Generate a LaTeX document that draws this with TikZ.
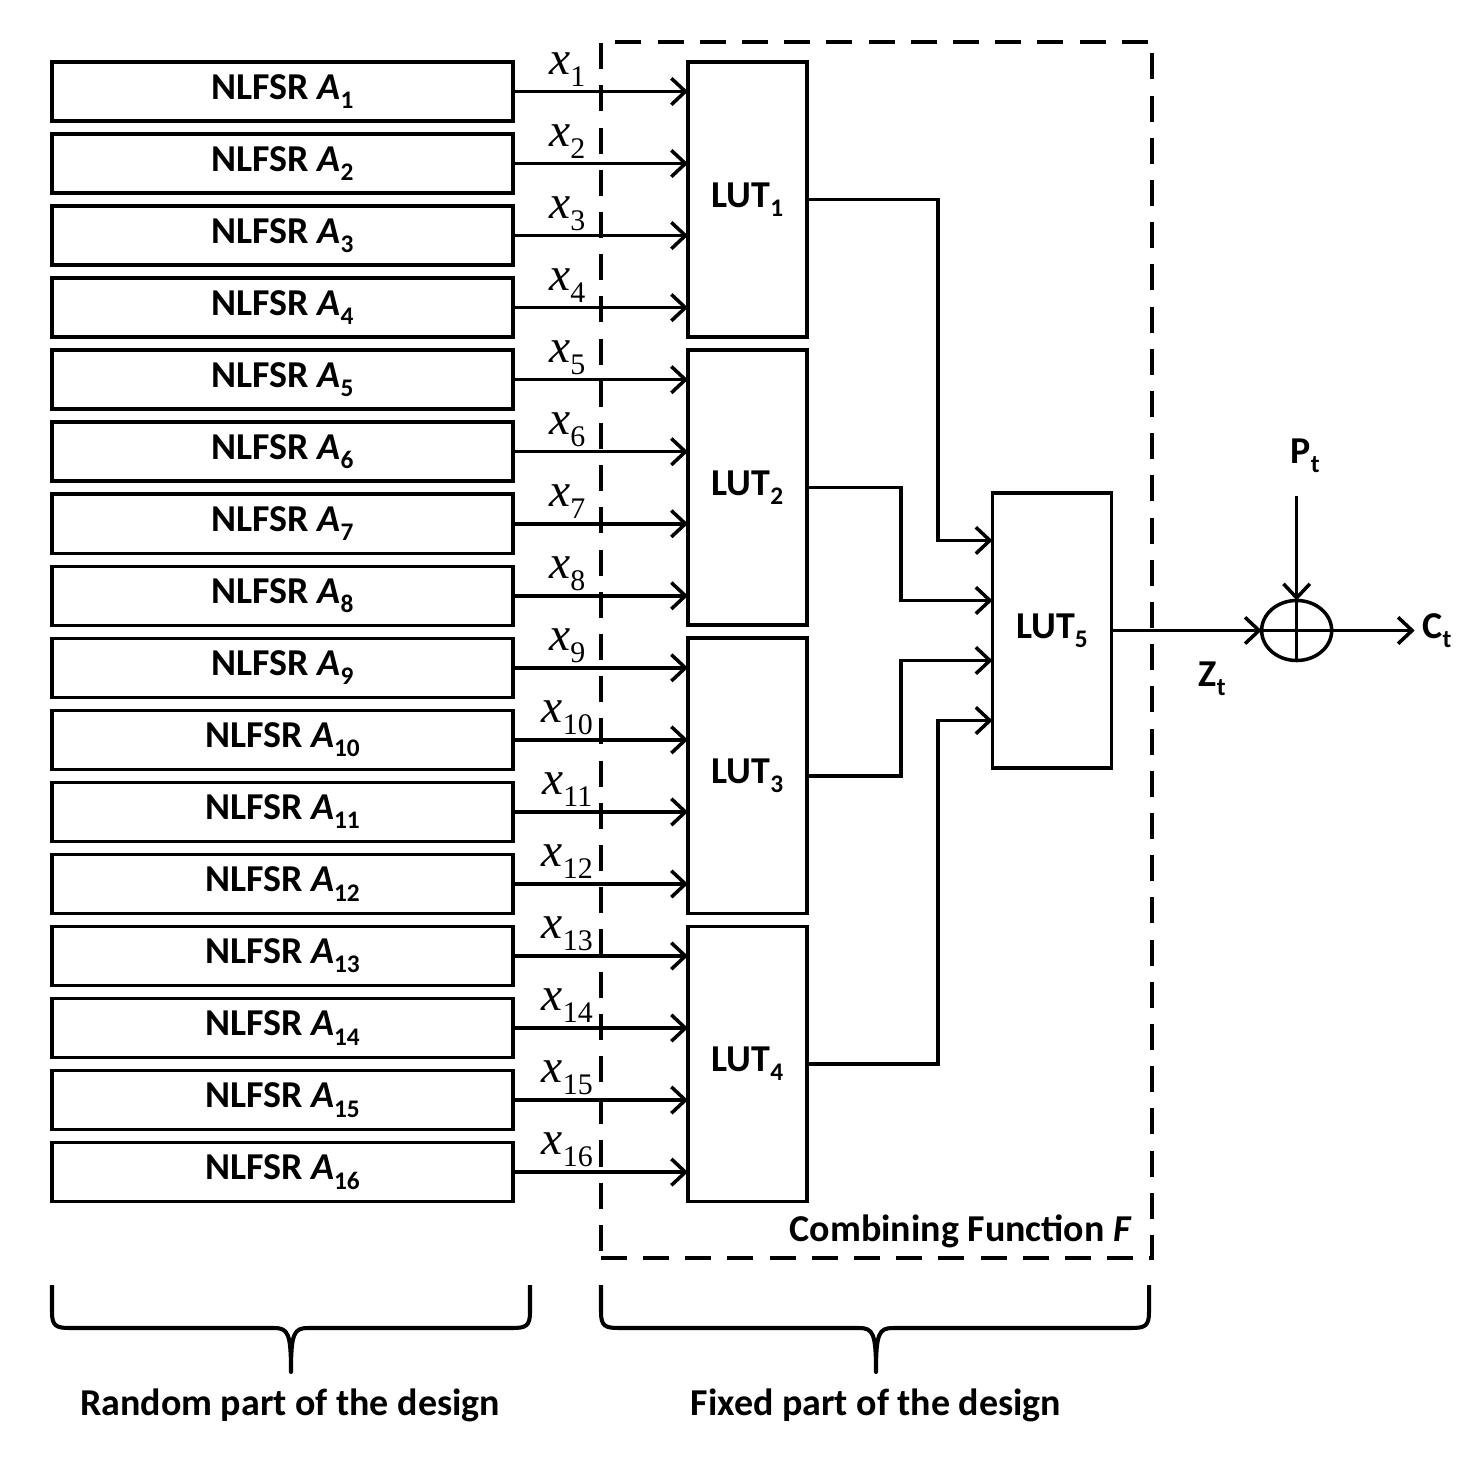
\documentclass[tikz,border=0pt]{standalone}
\usepackage{fontspec}
\setmainfont{Carlito}
\newfontfamily\timesfont{Liberation Serif}
\usetikzlibrary{shapes.geometric, arrows.meta, positioning}
\newcommand{\lowsub}[1]{\raisebox{-0.5ex}{\fontsize{7.2}{8}\selectfont #1}}
\newcommand{\xlab}[1]{{\timesfont\fontsize{13.5}{16}\selectfont\textit{x}\raisebox{-0.55ex}{\fontsize{8.5}{10}\selectfont #1}}}

\begin{document}
\begin{tikzpicture}[
    x=0.01cm, y=-0.01cm,
    node distance=0.13cm,
    nlfsr/.style={rectangle, draw, line width=1pt, minimum width=4.61cm,
                  minimum height=0.59cm, inner sep=0pt, outer sep=0pt,
                  font=\bfseries\fontsize{10.8}{12}\selectfont},
    lut/.style={rectangle, draw, line width=1pt, minimum width=1.19cm,
                minimum height=2.75cm, inner sep=0pt, outer sep=0pt,
                font=\bfseries\fontsize{10.8}{12}\selectfont},
    xorgate/.style={ellipse, draw, line width=1pt, minimum width=0.7cm,
                    minimum height=0.6cm, inner sep=0pt, outer sep=0pt},
    dashbox/.style={rectangle, draw, line width=1.15pt, inner sep=0pt,
                    dash pattern=on 7.4pt off 4.6pt},
    lbl/.style={font=\bfseries\fontsize{10.8}{12}\selectfont},
    xlbl/.style={above, inner sep=1pt, pos=0.31},
    arr/.style={-{Straight Barb[length=4pt, width=7.5pt]}, line width=1pt},
    brace/.style={line width=1.15pt, line join=round}
]
\useasboundingbox (0,0) rectangle (1477,1477);

\node[dashbox, minimum width=5.51cm, minimum height=12.16cm] (F) at (876.5,650) {};
\node[lbl, anchor=south east] (cf) at ([xshift=-0.1cm]F.south east) {Combining Function \textit{F}};

\node[nlfsr] (A1) at (282.5,91.5) {NLFSR \textit{A}\lowsub{1}};
\node[nlfsr, below=of A1] (A2) {NLFSR \textit{A}\lowsub{2}};
\node[nlfsr, below=of A2] (A3) {NLFSR \textit{A}\lowsub{3}};
\node[nlfsr, below=of A3] (A4) {NLFSR \textit{A}\lowsub{4}};
\node[nlfsr, below=of A4] (A5) {NLFSR \textit{A}\lowsub{5}};
\node[nlfsr, below=of A5] (A6) {NLFSR \textit{A}\lowsub{6}};
\node[nlfsr, below=of A6] (A7) {NLFSR \textit{A}\lowsub{7}};
\node[nlfsr, below=of A7] (A8) {NLFSR \textit{A}\lowsub{8}};
\node[nlfsr, below=of A8] (A9) {NLFSR \textit{A}\lowsub{9}};
\node[nlfsr, below=of A9] (A10) {NLFSR \textit{A}\lowsub{10}};
\node[nlfsr, below=of A10] (A11) {NLFSR \textit{A}\lowsub{11}};
\node[nlfsr, below=of A11] (A12) {NLFSR \textit{A}\lowsub{12}};
\node[nlfsr, below=of A12] (A13) {NLFSR \textit{A}\lowsub{13}};
\node[nlfsr, below=of A13] (A14) {NLFSR \textit{A}\lowsub{14}};
\node[nlfsr, below=of A14] (A15) {NLFSR \textit{A}\lowsub{15}};
\node[nlfsr, below=of A15] (A16) {NLFSR \textit{A}\lowsub{16}};

\node[lut] (L1) at (747.5,199.5) {LUT\lowsub{1}};
\node[lut, below=of L1] (L2) {LUT\lowsub{2}};
\node[lut, below=of L2] (L3) {LUT\lowsub{3}};
\node[lut, below=of L3] (L4) {LUT\lowsub{4}};
\node[lut] (L5) at (1052,630.5) {LUT\lowsub{5}};

\node[xorgate, right=1.5cm of L5] (xor) {};
\node[lbl] (pt) at (1305,456) {P\lowsub{t}};
\node[lbl, right=0.83cm of xor, inner sep=2pt] (ct) {C\lowsub{t}};

\draw[arr] (A1.east) -- (A1.east -| L1.west) node[xlbl] (x1) {\xlab{1}};
\draw[arr] (A2.east) -- (A2.east -| L1.west) node[xlbl] (x2) {\xlab{2}};
\draw[arr] (A3.east) -- (A3.east -| L1.west) node[xlbl] (x3) {\xlab{3}};
\draw[arr] (A4.east) -- (A4.east -| L1.west) node[xlbl] (x4) {\xlab{4}};
\draw[arr] (A5.east) -- (A5.east -| L2.west) node[xlbl] (x5) {\xlab{5}};
\draw[arr] (A6.east) -- (A6.east -| L2.west) node[xlbl] (x6) {\xlab{6}};
\draw[arr] (A7.east) -- (A7.east -| L2.west) node[xlbl] (x7) {\xlab{7}};
\draw[arr] (A8.east) -- (A8.east -| L2.west) node[xlbl] (x8) {\xlab{8}};
\draw[arr] (A9.east) -- (A9.east -| L3.west) node[xlbl] (x9) {\xlab{9}};
\draw[arr] (A10.east) -- (A10.east -| L3.west) node[xlbl] (x10) {\xlab{10}};
\draw[arr] (A11.east) -- (A11.east -| L3.west) node[xlbl] (x11) {\xlab{11}};
\draw[arr] (A12.east) -- (A12.east -| L3.west) node[xlbl] (x12) {\xlab{12}};
\draw[arr] (A13.east) -- (A13.east -| L4.west) node[xlbl] (x13) {\xlab{13}};
\draw[arr] (A14.east) -- (A14.east -| L4.west) node[xlbl] (x14) {\xlab{14}};
\draw[arr] (A15.east) -- (A15.east -| L4.west) node[xlbl] (x15) {\xlab{15}};
\draw[arr] (A16.east) -- (A16.east -| L4.west) node[xlbl] (x16) {\xlab{16}};

\draw[arr] (L1.east) -- ++(131,0) |- ([yshift=0.9cm]L5.west);
\draw[arr] (L2.east) -- ++(94,0) |- ([yshift=0.3cm]L5.west);
\draw[arr] (L3.east) -- ++(94,0) |- ([yshift=-0.3cm]L5.west);
\draw[arr] (L4.east) -- ++(131,0) |- ([yshift=-0.9cm]L5.west);

\draw[arr] (L5.east) -- (xor.west) node[lbl, pos=0.67, below=5pt] (zt) {Z\lowsub{t}};
\draw[arr, shorten <=3pt] (xor.north |- pt.south) -- (xor.north);
\draw[arr] (xor.east) -- (ct.west);
\draw[line width=1pt] (xor.north) -- (xor.south) (xor.west) -- (xor.east);

\draw[brace] (52,1285) -- (52,1312) .. controls (52,1326) and (56,1328) .. (70,1328)
    -- (274,1328) .. controls (288,1328) and (291,1333) .. (291,1372)
    .. controls (291,1333) and (294,1328) .. (308,1328) -- (512,1328)
    .. controls (526,1328) and (530,1326) .. (530,1312) -- (530,1285);
\draw[brace] (601,1285) -- (601,1312) .. controls (601,1326) and (605,1328) .. (619,1328)
    -- (859,1328) .. controls (873,1328) and (876,1333) .. (876,1372)
    .. controls (876,1333) and (879,1328) .. (893,1328) -- (1131,1328)
    .. controls (1145,1328) and (1149,1326) .. (1149,1312) -- (1149,1285);

\node[lbl] (rnd) at (290,1405) {Random part of the design};
\node[lbl] (fxd) at (876,1405) {Fixed part of the design};
\end{tikzpicture}
\end{document}
